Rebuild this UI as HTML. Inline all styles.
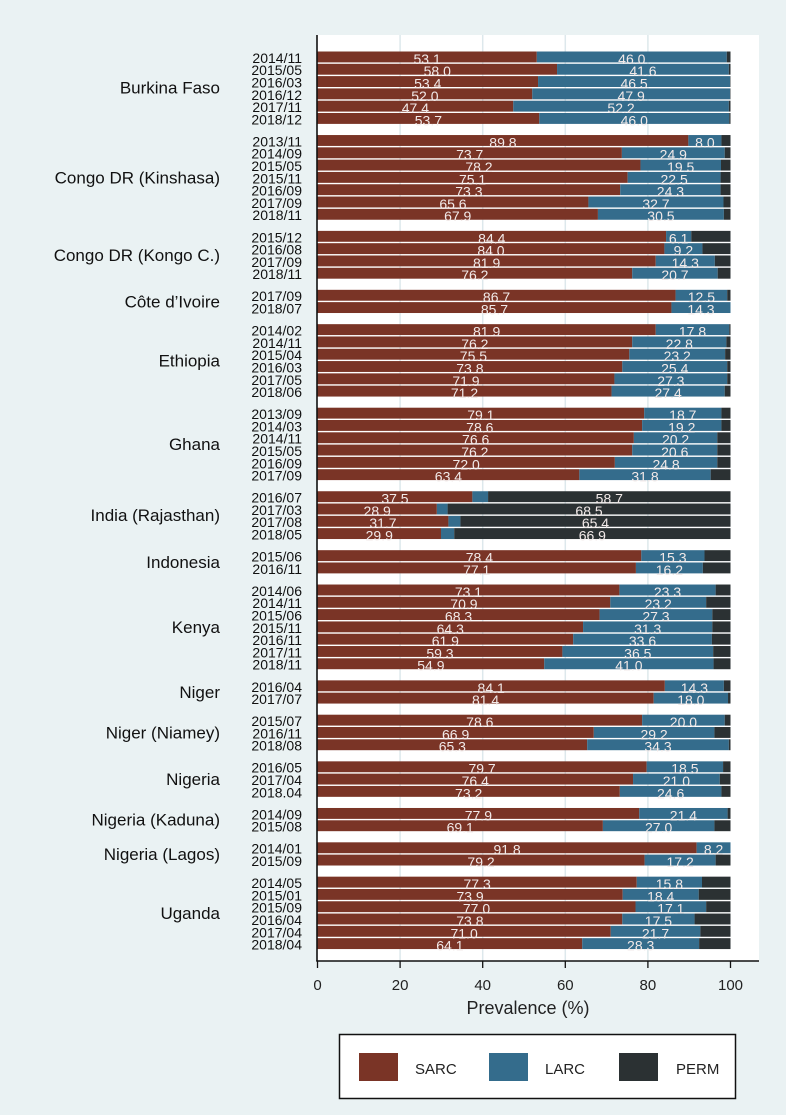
<!DOCTYPE html>
<html><head><meta charset="utf-8">
<style>
html,body{margin:0;padding:0;background:#eaf2f3;}
svg{display:block;font-family:"Liberation Sans",sans-serif;}
</style></head>
<body>
<svg id="chart" width="786" height="1115" viewBox="0 0 786 1115" xmlns="http://www.w3.org/2000/svg">
<rect x="0" y="0" width="786" height="1115" fill="#eaf2f3"/>
<rect x="317" y="35" width="442" height="926" fill="#ffffff"/>
<g id="grid"></g>
<g id="bars"></g>
<g id="labels"></g>
<g id="axes"></g>
<text x="528" y="1014" font-size="18" text-anchor="middle" fill="#222">Prevalence (%)</text>
<g>
<rect x="339.5" y="1034.5" width="396" height="64" fill="#fff" stroke="#111" stroke-width="1.5"/>
<g><rect x="359" y="1053" width="39" height="28" fill="#7a3426"/><text x="415" y="1074" font-size="15" fill="#222">SARC</text></g>
<g><rect x="489" y="1053" width="39" height="28" fill="#346c8c"/><text x="545" y="1074" font-size="15" fill="#222">LARC</text></g>
<g><rect x="619" y="1053" width="39" height="28" fill="#2b3133"/><text x="676" y="1074" font-size="15" fill="#222">PERM</text></g>
</g>
</svg>
<script>
const groupNames = ["Burkina Faso","Congo DR (Kinshasa)","Congo DR (Kongo C.)","Côte d’Ivoire","Ethiopia","Ghana","India (Rajasthan)","Indonesia","Kenya","Niger","Niger (Niamey)","Nigeria","Nigeria (Kaduna)","Nigeria (Lagos)","Uganda"];
const groupSizes = [6,7,4,2,6,6,4,2,7,2,3,3,2,2,6];
const dates = ["2014/11","2015/05","2016/03","2016/12","2017/11","2018/12",
"2013/11","2014/09","2015/05","2015/11","2016/09","2017/09","2018/11",
"2015/12","2016/08","2017/09","2018/11",
"2017/09","2018/07",
"2014/02","2014/11","2015/04","2016/03","2017/05","2018/06",
"2013/09","2014/03","2014/11","2015/05","2016/09","2017/09",
"2016/07","2017/03","2017/08","2018/05",
"2015/06","2016/11",
"2014/06","2014/11","2015/06","2015/11","2016/11","2017/11","2018/11",
"2016/04","2017/07",
"2015/07","2016/11","2018/08",
"2016/05","2017/04","2018.04",
"2014/09","2015/08",
"2014/01","2015/09",
"2014/05","2015/01","2015/09","2016/04","2017/04","2018/04"];
const sarc = [53.1,58.0,53.4,52.0,47.4,53.7,
89.8,73.7,78.2,75.1,73.3,65.6,67.9,
84.4,84.0,81.9,76.2,
86.7,85.7,
81.9,76.2,75.5,73.8,71.9,71.2,
79.1,78.6,76.6,76.2,72.0,63.4,
37.5,28.9,31.7,29.9,
78.4,77.1,
73.1,70.9,68.3,64.3,61.9,59.3,54.9,
84.1,81.4,
78.6,66.9,65.3,
79.7,76.4,73.2,
77.9,69.1,
91.8,79.2,
77.3,73.9,77.0,73.8,71.0,64.1];
const larc = [46.0,41.6,46.5,47.9,52.2,46.0,
8.0,24.9,19.5,22.5,24.3,32.7,30.5,
6.1,9.2,14.3,20.7,
12.5,14.3,
17.8,22.8,23.2,25.4,27.3,27.4,
18.7,19.2,20.2,20.6,24.8,31.8,
3.8,2.6,2.9,3.2,
15.3,16.2,
23.3,23.2,27.3,31.3,33.6,36.5,41.0,
14.3,18.0,
20.0,29.2,34.3,
18.5,21.0,24.6,
21.4,27.0,
8.2,17.2,
15.8,18.4,17.1,17.5,21.7,28.3];
const perm = [0.9,0.4,0.1,0.1,0.4,0.3,
2.2,1.4,2.3,2.4,2.4,1.7,1.6,
9.5,6.8,3.8,3.1,
0.8,0.0,
0.3,1.0,1.3,0.8,0.8,1.4,
2.2,2.2,3.2,3.2,3.2,4.8,
58.7,68.5,65.4,66.9,
6.3,6.7,
3.6,5.9,4.4,4.4,4.5,4.2,4.1,
1.6,0.6,
1.4,3.9,0.4,
1.8,2.6,2.2,
0.7,3.9,
0.0,3.6,
6.9,7.7,5.9,8.7,7.3,7.6];
const secondLabelSeries = ["L","L","L","L","L","L","L","L","L","L","L","L","L","L","L","L","L","L","L","L","L","L","L","L","L","L","L","L","L","L","L","P","P","P","P","L","L","L","L","L","L","L","L","L","L","L","L","L","L","L","L","L","L","L","L","L","L","L","L","L","L","L"];
const xTicks = [0,20,40,60,80,100];

const NS = "http://www.w3.org/2000/svg";
const X0 = 317.5, XS = 4.13;
function xScale(v){ return X0 + v*XS; }
const TOP = 51.5, PITCH = 12.3, GAP = 9.74, BARH = 10.9;
function rowY(i, g){ return TOP + i*PITCH + g*GAP; }
function mk(tag, attrs, parent){ const e=document.createElementNS(NS,tag); for(const k in attrs) e.setAttribute(k,attrs[k]); parent.appendChild(e); return e; }

const grid = document.getElementById('grid');
const bars = document.getElementById('bars');
const labels = document.getElementById('labels');
const axes = document.getElementById('axes');
const colors = {S:"#7a3426", L:"#346c8c", P:"#2b3133"};

xTicks.forEach(t=>{
  if(t>0 && t<100){
    const gl = mk('line',{x1:xScale(t),x2:xScale(t),y1:35,y2:961,stroke:"#dde8ec","stroke-width":1.5},grid);
    
    
  }
});

let row = 0;
groupNames.forEach((gname, g)=>{
  const n = groupSizes[g];
  const yStart = rowY(row, g);
  const yEnd = rowY(row+n-1, g) + BARH;
  const gl = mk('text',{x:220,y:(yStart+yEnd)/2+6,"font-size":17,"text-anchor":"end",fill:"#111"},labels);
  gl.textContent = gname;
  
  
  for(let k=0;k<n;k++){
    const i = row+k;
    const y = rowY(i, g);
    const s = sarc[i], l = larc[i], p = perm[i];
    const segs = [[0,s,'S'],[s,s+l,'L'],[s+l,s+l+p,'P']];
    segs.forEach(([a,b,c])=>{
      if(b-a<=0) return;
      const r = mk('rect',{x:xScale(a),y:y,width:(b-a)*XS,height:BARH,fill:colors[c]},bars);
      
      
    });
    const dl = mk('text',{x:302,y:y+BARH+0.5,"font-size":14,"text-anchor":"end",fill:"#111"},labels);
    dl.textContent = dates[i];
    
    
    const v1 = mk('text',{x:xScale(s/2),y:y+BARH+1.5,"font-size":14,"text-anchor":"middle",fill:"#f1e9e8"},labels);
    v1.textContent = s.toFixed(1);
    
    
    let mid, val;
    if(secondLabelSeries[i]==='P'){ mid = s+l+p/2; val = p; } else { mid = s+l/2; val = l; }
    const v2 = mk('text',{x:xScale(mid),y:y+BARH+1.5,"font-size":14,"text-anchor":"middle",fill:"#f1e9e8"},labels);
    v2.textContent = val.toFixed(1);
    
    
  }
  row += n;
});

const ya = mk('line',{x1:317,x2:317,y1:35,y2:961,stroke:"#111","stroke-width":1.6},axes);


const xa = mk('line',{x1:316.2,x2:759,y1:961,y2:961,stroke:"#111","stroke-width":1.6},axes);


xTicks.forEach(t=>{
  const tk = mk('line',{x1:xScale(t),x2:xScale(t),y1:961,y2:968,stroke:"#111","stroke-width":1.3},axes);
  
  
  const tl = mk('text',{x:xScale(t),y:990,"font-size":15,"text-anchor":"middle",fill:"#222"},axes);
  tl.textContent = t;
  
  
});
</script>
</body></html>
